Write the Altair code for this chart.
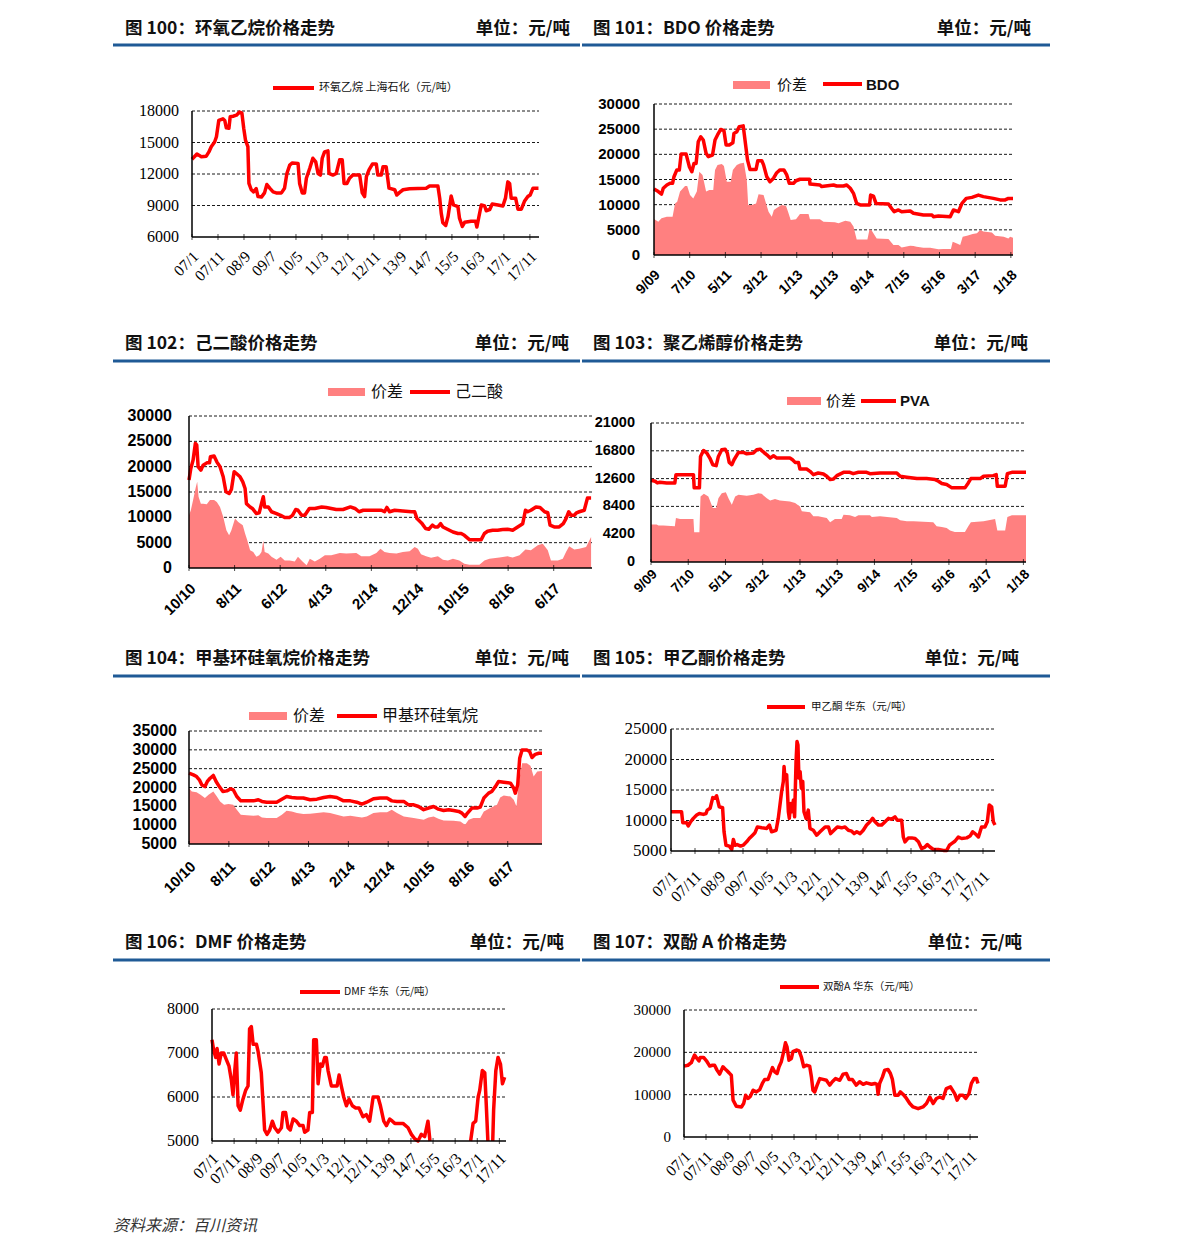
import altair as alt
import pandas as pd

# ---------------- data ----------------
# x = months after the first tick label of each chart, y = 元/吨
LAB_07 = ['07/1', '07/11', '08/9', '09/7', '10/5', '11/3', '12/1', '12/11',
          '13/9', '14/7', '15/5', '16/3', '17/1', '17/11']
LAB_09 = ['9/09', '7/10', '5/11', '3/12', '1/13', '11/13', '9/14', '7/15',
          '5/16', '3/17', '1/18']
LAB_10 = ['10/10', '8/11', '6/12', '4/13', '2/14', '12/14', '10/15', '8/16', '6/17']

EO_PRICE = [(0,13400),(1.9,13900),(3.6,13650),(5.5,13700),(6.5,14100),(7.4,14600),(8.7,15050),(9.4,15550),
    (10.3,17100),(11.9,17250),(12.6,17100),(13.2,16400),(14.2,16350),(14.7,17450),(15.8,17500),(17.1,17600),
    (18.3,17900),(19.2,17800),(19.9,16350),(20.6,15200),(21.5,14600),(21.9,11100),(22.8,10500),(23.7,10300),
    (24.7,10600),(25.4,9850),(26.7,9800),(27.9,10200),(28.8,11000),(29.9,10650),(31.2,10300),(32.4,10200),
    (34.4,10200),(35.6,10650),(36.5,12050),(37.6,12850),(38.6,13050),(40.8,13000),(41.4,11100),(42.4,10200),
    (43.3,10200),(44.0,11600),(45.3,12550),(46.5,13500),(47.6,13150),(48.5,12050),(49.4,11900),(50.1,13500),
    (51.0,14100),(52.3,14200),(52.7,12050),(54.2,11900),(55.5,12050),(56.8,13350),(57.8,13350),(58.5,11100),
    (59.6,11100),(60.6,11600),(61.9,11900),(64.5,11900),(65.5,10200),(66.4,9850),(67.1,11750),(68.1,12400),
    (69.4,12950),(70.9,12950),(71.5,11900),(72.8,11900),(73.5,12700),(74.7,12700),(75.8,10650),(78.0,10500),
    (78.8,10000),(79.9,10250),(81.2,10500),(83.7,10600),(90.1,10650),(91.4,10850),(94.6,10850),(95.3,9700),
    (95.9,8250),(96.5,7350),(97.6,7100),(98.5,7950),(99.7,9900),(100.6,9050),(102.3,8900),(102.9,7800),
    (104.0,7000),(104.9,7400),(107.4,7500),(109.1,7500),(109.6,6950),(110.4,7950),(111.3,9050),(112.6,8950),
    (113.2,8500),(114.5,8600),(115.5,9150),(117.7,9050),(119.6,8950),(120.6,9700),(121.5,11250),(122.2,11100),
    (122.8,9700),(124.5,9700),(125.4,8650),(126.7,8650),(127.9,9400),(129.2,9850),(130.1,10000),(131.2,10650),
    (133.3,10650)]

BDO_PRICE = [(0,13100),(1.2,12600),(2.1,12100),(2.6,13250),(3.6,13900),(4.5,14250),(5.2,14250),(5.6,15550),
    (6.4,16900),(7.1,16900),(7.6,20050),(9.0,20050),(9.9,17550),(10.6,16550),(11.2,18200),(11.8,18200),
    (12.4,22500),(13.1,23500),(13.8,22850),(14.6,20200),(15.2,19550),(16.4,19850),(17.1,22850),(17.8,23850),
    (18.7,24950),(19.6,24700),(20.2,21850),(21.1,21850),(22.1,22300),(22.4,24150),(23.2,24500),(23.9,25500),
    (25.0,25650),(25.5,22850),(26.2,18900),(26.9,17000),(28.6,17000),(29.1,18750),(30.2,18750),(30.7,17900),
    (31.6,15550),(32.5,14550),(33.5,15250),(34.4,16350),(35.3,16900),(36.4,16900),(37.2,15900),(37.9,14250),
    (39.1,14250),(39.8,14750),(40.9,15050),(43.6,15050),(43.7,14100),(46.5,13900),(47.0,13600),(50.3,13900),
    (51.2,13700),(53.1,13700),(54.0,13900),(55.0,13250),(55.9,12250),(56.8,10250),(57.8,9950),(60.4,9950),
    (60.7,11900),(61.5,11700),(62.2,10250),(65.7,10150),(66.6,9250),(67.3,8600),(68.5,8950),(69.4,8600),
    (71.8,8750),(72.7,8300),(75.5,7950),(77.9,7950),(78.3,7600),(79.7,7750),(83.0,7600),(83.9,8950),
    (85.3,8600),(86.3,10250),(87.5,11250),(89.1,11450),(90.9,11900),(92.3,11600),(95.1,11250),(97.0,10950),
    (98.4,10950),(99.3,11250),(100.6,11250)]
BDO_SPREAD = [(0,7150),(1.2,6600),(2.1,7300),(3.6,7600),(5.2,7600),(5.9,10250),(6.5,10600),(7.3,12600),
    (8.7,13700),(9.3,13700),(10.1,11900),(11.0,11250),(12.0,12600),(12.7,16550),(13.6,15900),(14.6,12600),
    (15.5,12900),(16.6,12900),(17.1,16900),(17.8,17900),(19.0,18100),(19.6,17700),(20.4,14550),(21.5,14550),
    (22.1,16900),(23.2,17900),(24.1,18200),(25.2,18350),(26.0,14900),(26.4,9950),(27.4,9950),(28.6,10250),
    (29.3,12050),(30.7,11900),(31.4,10250),(32.1,8600),(33.0,7600),(33.6,8950),(34.6,9450),(35.8,9950),
    (37.0,9750),(37.7,8300),(38.3,6950),(39.8,7100),(40.9,8150),(43.3,8150),(43.7,7100),(46.5,7100),
    (47.5,6600),(50.7,6500),(51.7,6300),(53.6,6800),(55.0,6600),(55.9,5650),(56.8,3100),(59.8,3100),
    (60.4,5100),(61.0,4850),(62.4,3300),(65.7,3200),(67.1,2000),(68.5,2000),(69.4,1500),(71.8,1850),
    (72.7,1800),(73.6,1650),(75.5,1450),(77.4,1450),(79.7,1150),(81.1,1200),(83.2,1200),(83.7,2650),
    (84.9,2300),(85.8,2000),(86.5,3650),(87.7,3800),(89.3,4150),(90.5,4300),(91.4,4950),(92.3,4650),
    (94.7,4450),(95.6,3800),(98.0,3650),(99.3,3300),(99.8,3650),(100.6,3450)]

ADA_PRICE = [(0,17350),(0.4,19650),(0.9,21300),(1.4,24600),(1.7,24250),(2.0,20000),(2.6,19300),(3.1,20300),
    (3.9,20750),(4.5,20750),(4.7,21950),(5.5,22100),(6.1,20950),(6.8,20000),(7.5,18000),(8.1,15050),
    (8.8,14700),(9.3,15500),(9.9,19000),(10.4,18650),(11.2,18000),(11.8,17000),(12.3,15700),(12.6,12700),
    (13.4,12050),(13.9,11750),(14.8,10750),(15.4,10900),(15.9,12700),(16.3,14050),(16.6,12050),(17.4,12050),
    (18.1,11100),(19.2,10750),(20.1,10400),(21.0,9950),(22.0,9950),(22.7,10400),(23.4,11550),(23.9,11400),
    (24.7,10400),(25.4,10400),(26.4,11750),(27.6,11750),(29.1,12050),(30.1,11950),(32.3,11550),(33.8,11550),
    (35.4,12050),(36.4,11750),(37.3,11100),(38.2,11400),(40.4,11400),(42.2,11400),(42.9,11100),(43.4,11950),
    (44.0,11100),(45.1,11400),(46.9,11250),(48.8,11100),(49.5,11100),(50.0,9750),(51.0,8900),(51.9,7800),
    (52.6,7650),(53.4,8450),(53.9,8100),(54.6,8100),(55.2,8750),(55.7,8100),(56.8,7600),(57.9,7100),
    (59.0,6800),(59.7,6800),(60.4,6450),(61.5,5600),(62.6,5600),(64.1,5600),(64.8,6800),(65.5,7250),
    (66.6,7450),(67.7,7450),(68.8,7600),(69.9,7650),(71.0,7450),(72.1,8100),(73.2,8750),(73.8,11400),
    (74.3,11100),(75.0,11400),(76.1,12050),(77.0,11950),(78.0,11100),(78.7,10900),(79.2,8450),(80.1,8100),
    (81.2,8100),(82.1,8750),(82.7,9750),(83.3,11100),(83.8,10400),(84.5,10400),(85.0,10900),(85.6,11100),
    (86.7,11400),(87.4,13800),(88.2,13800)]
ADA_SPREAD = [(0,10400),(0.4,11400),(0.9,13400),(1.5,16000),(1.8,17000),(2.1,14050),(2.6,12700),(3.1,12700),
    (3.9,12600),(4.6,13400),(5.5,13400),(6.1,13050),(6.8,12050),(7.5,10100),(8.2,7450),(8.8,6450),
    (9.3,7450),(10.1,9750),(10.8,9100),(11.8,8450),(12.3,6800),(12.8,5450),(13.4,3500),(14.1,3150),
    (14.8,2200),(15.4,2500),(15.9,3150),(16.3,5450),(16.6,3150),(17.4,2850),(18.1,2200),(19.2,1650),
    (20.1,2200),(21.0,1500),(22.1,1500),(23.2,1300),(23.9,2200),(24.9,1300),(25.8,550),(26.5,1850),
    (27.6,1300),(28.7,1850),(29.8,2500),(31.2,2500),(33.1,2950),(34.5,2850),(36.7,2950),(37.8,2300),
    (39.6,2300),(41.1,2950),(42.0,3800),(42.9,3150),(44.0,2950),(45.5,2850),(46.9,3150),(48.4,3300),
    (49.5,4150),(50.2,3800),(50.9,2700),(52.0,2300),(53.1,2000),(54.6,2300),(55.7,1650),(56.8,1500),
    (57.9,1850),(59.3,1500),(60.4,850),(61.5,650),(63.7,650),(64.8,1500),(65.9,1850),(68.1,2050),
    (69.9,2300),(71.0,2050),(72.5,2500),(73.8,3650),(75.0,3500),(76.5,4500),(77.6,4800),(78.7,3500),
    (79.4,1500),(80.9,1500),(82.0,1850),(82.7,3150),(83.4,4300),(84.5,3650),(85.6,3800),(87.1,4150),
    (88.2,6100)]

PVA_PRICE = [(0,12350),(1.1,12200),(1.7,11950),(2.4,12050),(4.2,11950),(6.4,11950),(6.7,13200),(7.8,13200),
    (11.4,13200),(11.6,11200),(13.0,11200),(13.3,15950),(14.1,16850),(15.0,16450),(15.8,15700),(16.6,14700),
    (17.5,14550),(18.1,15950),(19.0,16950),(19.9,17050),(20.5,16450),(21.0,15050),(21.7,14700),(22.3,15450),
    (23.5,16550),(24.8,16550),(25.7,16350),(27.5,16450),(28.4,16950),(29.3,17050),(30.0,16700),(31.1,16200),
    (32.0,15700),(32.9,16050),(33.8,15700),(35.5,15700),(37.3,15700),(38.0,15450),(38.7,15050),(39.6,15050),
    (40.0,14050),(41.8,14050),(42.7,13700),(43.6,13200),(44.9,13450),(46.3,13300),(47.2,12950),(48.1,12450),
    (49.0,12550),(49.9,13050),(51.7,13550),(53.4,13550),(54.3,13350),(55.7,13550),(57.9,13550),(58.8,13350),
    (61.5,13450),(66.0,13450),(66.9,12950),(68.7,12800),(71.4,12600),(74.0,12600),(76.3,12450),(77.2,12200),
    (78.1,11850),(79.4,11700),(80.8,11200),(84.3,11200),(85.2,11950),(85.9,12600),(88.4,12600),(89.3,12950),
    (91.9,13050),(92.7,13200),(93.0,11450),(95.1,11450),(95.7,13350),(96.9,13550),(100.7,13550)]
PVA_SPREAD = [(0,5650),(1.5,5650),(2.0,5500),(3.3,5500),(6.4,5400),(6.7,6650),(7.8,6500),(11.4,6500),
    (11.6,4500),(13.0,4500),(13.3,9900),(14.2,10300),(15.4,9900),(16.6,8150),(17.5,8150),(18.1,9650),
    (19.0,10400),(20.1,10550),(20.8,9650),(21.7,8650),(22.6,9900),(23.5,10150),(25.7,10000),(27.5,10150),
    (28.8,10400),(29.7,10300),(31.1,9650),(32.0,9300),(33.3,9500),(34.6,9300),(37.3,9150),(38.7,8900),
    (40.0,8400),(40.5,7650),(42.7,7500),(43.6,6900),(44.9,6900),(47.2,6650),(48.1,6000),(49.4,6500),
    (51.2,6500),(51.7,7150),(53.4,7050),(54.8,6800),(55.7,7050),(58.8,7050),(59.3,6800),(61.5,6900),
    (66.0,6650),(66.9,6300),(68.7,6150),(70.5,6150),(75.8,6000),(76.7,5400),(78.1,5300),(79.4,5150),
    (80.3,4750),(81.6,4550),(84.3,4550),(85.2,5400),(85.9,6000),(89.3,6150),(92.4,6500),(93.0,4750),
    (95.1,4750),(95.7,6800),(96.9,7050),(100.7,7050)]

DMC_PRICE = [(0,23800),(1.1,23350),(1.9,22900),(2.6,22050),(3.2,20700),(4.0,20250),(4.6,21600),(5.3,22450),
    (6.1,23200),(6.8,21600),(7.6,20250),(8.5,18950),(9.5,19100),(10.5,19650),(11.1,19400),(12.0,17600),
    (13.0,16450),(14.5,16450),(16.2,16450),(17.4,16750),(18.3,16300),(19.5,16100),(22.0,16100),(23.3,16900),
    (24.5,17600),(25.8,17350),(27.1,17200),(28.7,17200),(30.4,16750),(32.1,16900),(33.8,17350),(35.4,17600),
    (37.1,17350),(38.8,16450),(40.5,16450),(42.1,16100),(43.4,15600),(44.6,16100),(46.3,17000),(48.0,17200),
    (49.7,17200),(50.9,16450),(52.2,16300),(53.9,16300),(55.1,15400),(56.4,15400),(57.6,14950),(58.9,14100),
    (60.1,14550),(61.4,14950),(62.6,14250),(63.9,13900),(65.2,14100),(66.4,13900),(67.7,13650),(68.5,13200),
    (69.3,12300),(69.9,13200),(71.0,14550),(72.3,14550),(73.1,14800),(74.0,17200),(75.2,18500),(76.0,18950),
    (76.9,20250),(77.7,21600),(79.0,21400),(80.7,21150),(81.5,19800),(81.9,18500),(82.5,20700),(83.0,27750),
    (83.6,29950),(84.8,29950),(85.5,29550),(86.1,27950),(86.9,28800),(87.8,29100),(88.6,29100)]
DMC_SPREAD = [(0,19800),(0.7,18950),(1.9,18750),(2.9,18050),(4.0,17200),(4.9,18050),(6.1,18950),(7.0,17600),
    (7.8,16300),(8.8,15400),(9.9,15600),(11.1,15400),(12.0,14100),(13.0,12750),(14.5,12600),(16.2,12500),
    (17.4,12600),(18.3,12050),(19.5,11900),(22.0,11900),(23.3,12750),(24.5,13800),(25.8,13650),(27.1,13200),
    (28.7,12950),(30.4,13050),(32.1,13200),(33.8,13400),(35.4,13200),(37.1,12750),(38.8,12300),(40.5,12500),
    (42.1,12250),(43.4,12050),(44.6,12300),(46.3,13200),(48.0,13400),(49.7,13400),(50.9,14100),(52.2,13200),
    (53.9,12300),(56.4,11900),(58.9,11450),(60.1,12050),(61.4,12300),(62.6,11700),(63.9,11250),(66.4,11200),
    (68.1,11000),(69.3,10100),(70.2,11450),(71.4,11900),(73.1,11900),(74.0,13650),(75.6,14550),(77.3,15400),
    (78.1,17350),(79.0,17900),(80.7,17600),(81.5,16750),(82.2,14950),(82.7,20700),(83.6,26450),(84.8,26450),
    (85.7,25800),(86.5,22900),(87.4,24250),(88.6,24400)]

MEK_PRICE = [(0,11450),(4.4,11450),(4.9,9650),(6.5,9650),(7.2,9100),(8.2,9800),(9.3,10350),(10.7,10900),
    (11.8,11150),(13.5,11000),(14.6,11150),(15.1,11700),(16.3,12000),(17.4,13750),(18.3,13650),(19.0,14050),
    (20.1,12250),(21.5,12100),(22.1,8150),(22.9,5950),(24.3,5800),(25.3,5250),(26.0,6900),(26.7,5950),
    (27.6,6050),(29.0,5800),(30.1,5950),(31.5,6500),(32.6,7050),(34.0,7600),(35.0,8000),(36.0,8950),
    (37.8,8800),(39.9,8700),(41.0,9250),(41.9,8150),(43.8,8400),(44.7,10350),(45.4,12550),(46.1,14750),
    (46.8,16400),(47.1,18850),(47.5,16950),(48.2,17500),(48.9,11450),(49.3,10350),(49.9,12800),(50.4,11450),
    (51.0,13350),(51.5,10600),(52.1,19650),(52.5,22950),(52.9,22400),(53.3,16950),(53.8,18000),(54.3,15300),
    (54.9,16400),(55.4,11450),(56.3,10350),(57.2,11700),(57.9,8700),(59.3,8400),(60.7,7600),(62.1,8150),
    (64.2,8950),(65.6,8950),(66.5,7850),(67.9,8400),(69.3,8950),(71.1,8800),(72.5,8950),(73.9,8400),
    (75.3,8250),(76.3,7850),(77.4,8150),(78.8,7850),(80.1,8400),(81.5,9250),(82.9,9800),(84.0,10350),
    (85.0,9800),(86.4,9250),(87.8,9250),(89.2,9800),(90.6,10350),(91.9,10200),(93.3,10600),(94.3,10050),
    (96.1,10050),(96.8,7300),(97.5,6500),(98.9,7150),(100.3,7150),(101.7,7050),(103.1,6500),(104.4,5400),
    (105.8,5650),(106.8,6050),(107.9,5650),(109.3,5250),(111.4,5250),(113.5,5100),(114.9,5100),(116.0,5950),
    (116.9,6200),(118.3,6600),(119.7,7300),(121.1,7050),(123.2,7150),(124.6,7450),(125.7,8150),(126.7,7850),
    (128.1,7300),(129.4,8950),(130.8,8950),(131.8,9800),(132.6,12550),(133.6,12250),(134.3,9800),(135.0,9250)]

# (month, value, visible stretch) - the line leaves the 5000 floor twice
DMF_PRICE = [(0,7300,1),(0.8,7050,1),(1.7,6900,1),(2.3,7100,1),(3.2,6750,1),(4.2,7000,1),(5.3,7000,1),
    (6.5,6850,1),(7.7,6700,1),(8.7,6400,1),(9.5,6050,1),(10.3,6600,1),(11.0,7000,1),(11.8,5800,1),
    (12.8,5700,1),(14.0,5950,1),(15.2,6150,1),(16.3,6250,1),(17.0,7550,1),(17.8,7600,1),(18.6,7200,1),
    (20.1,7200,1),(20.8,7050,1),(22.3,6550,1),(23.1,5850,1),(23.8,5250,1),(24.9,5150,1),(26.1,5250,1),
    (27.3,5450,1),(28.4,5300,1),(29.9,5200,1),(31.4,5300,1),(32.1,5650,1),(33.3,5650,1),(34.4,5300,1),
    (35.4,5250,1),(36.7,5500,1),(38.2,5450,1),(39.7,5350,1),(41.2,5350,1),(41.9,5200,1),(43.4,5250,1),
    (44.2,5650,1),(45.4,5650,1),(46.0,7300,1),(47.2,7300,1),(48.0,6300,1),(49.0,6750,1),(49.9,6700,1),
    (51.0,6900,1),(51.7,6900,1),(52.5,6600,1),(54.0,6250,1),(55.5,6250,1),(56.6,6250,1),(57.5,6500,1),
    (58.5,6250,1),(59.6,6000,1),(60.8,5800,1),(62.0,5950,1),(63.5,5800,1),(65.0,5750,1),(66.5,5750,1),
    (68.3,5550,1),(69.8,5600,1),(71.3,5450,1),(72.9,6000,1),(75.1,6000,1),(76.2,5800,1),(77.7,5450,1),
    (78.9,5350,1),(80.4,5500,1),(81.6,5450,1),(82.7,5400,1),(84.2,5400,1),(86.4,5400,1),(88.7,5300,1),
    (90.2,5150,1),(91.7,5050,1),(93.2,5000,1),(94.7,5150,1),(96.2,5100,1),(97.7,5450,1),(98.6,5000,1),
    (117.0,5000,2),(118.1,5400,2),(119.3,5450,2),(120.4,6000,2),(121.1,6150,2),(122.3,6600,2),(123.4,6550,2),
    (124.1,5800,2),(124.8,5000,2),
    (127.0,5000,3),(127.4,5700,3),(128.4,6600,3),(129.4,6900,3),(130.5,6750,3),(131.4,6300,3),(132.4,6450,3)]

BPA_PRICE = [(0,16750),(1.8,16950),(3.3,17550),(4.1,18550),(4.8,19350),(5.9,18550),(6.8,18000),(7.4,18800),
    (8.9,18800),(10.2,18000),(11.7,16750),(12.9,16950),(13.9,16950),(15.0,15800),(16.2,14850),(17.7,16600),
    (19.2,15800),(20.5,15150),(21.5,14600),(22.3,8700),(23.8,7250),(26.1,7100),(27.1,7900),(28.0,9850),
    (29.1,9100),(30.2,9650),(31.4,11050),(32.9,10650),(34.4,11200),(35.6,12650),(36.7,13600),(38.2,13600),
    (39.2,15000),(40.2,16400),(41.2,15400),(42.3,15000),(43.2,16600),(44.2,17750),(45.3,20150),(46.1,22250),
    (46.8,21300),(47.7,18150),(48.8,18550),(49.5,20150),(51.1,20550),(52.3,20350),(53.3,18950),(54.4,16600),
    (55.6,16950),(57.1,16750),(57.9,14200),(58.6,11050),(59.4,10650),(60.5,12250),(61.7,13800),(63.2,13600),
    (64.7,13400),(66.2,12250),(67.4,13050),(68.9,13800),(70.8,13400),(72.3,14850),(73.8,15000),(75.0,13600),
    (76.5,13600),(78.3,12250),(79.8,13050),(81.4,12450),(82.9,12800),(85.2,12450),(86.7,12650),(87.7,12450),
    (88.2,10100),(88.9,12650),(90.2,14200),(91.2,15800),(92.7,15950),(93.8,15000),(94.7,13600),(95.8,9850),
    (97.3,9850),(98.3,10650),(99.5,10100),(101.1,9100),(102.6,7900),(104.1,7100),(106.4,6700),(108.6,7100),
    (110.2,7900),(111.7,9450),(113.2,7900),(114.7,9100),(116.2,9450),(117.7,9100),(119.2,11450),(121.1,11850),
    (123.0,10250),(124.1,8700),(125.3,9850),(126.8,9850),(128.0,9100),(129.5,10250),(130.6,12650),(131.8,13800),
    (132.9,13800),(133.6,12650)]

TITLES = ['图 100：环氧乙烷价格走势', '图 101：BDO 价格走势', '图 102：己二酸价格走势',
          '图 103：聚乙烯醇价格走势', '图 104：甲基环硅氧烷价格走势', '图 105：甲乙酮价格走势',
          '图 106：DMF 价格走势', '图 107：双酚 A 价格走势']
UNIT = '单位：元/吨'
SOURCE = '资料来源：百川资讯'
SPREAD_NAME = '价差'
SERIES_NAMES = ['环氧乙烷 上海石化（元/吨）', 'BDO', '己二酸', 'PVA', '甲基环硅氧烷',
                '甲乙酮 华东（元/吨）', 'DMF 华东（元/吨）', '双酚A 华东（元/吨）']

Y_TICKS = [[6000, 9000, 12000, 15000, 18000],
           [0, 5000, 10000, 15000, 20000, 25000, 30000],
           [0, 5000, 10000, 15000, 20000, 25000, 30000],
           [0, 4200, 8400, 12600, 16800, 21000],
           [5000, 10000, 15000, 20000, 25000, 30000, 35000],
           [5000, 10000, 15000, 20000, 25000],
           [5000, 6000, 7000, 8000],
           [0, 10000, 20000, 30000]]

# ---------------- styling / layout ----------------
SERIF = 'Liberation Serif'
SANS = 'Liberation Sans'
CJK = 'Noto Sans CJK SC'
RED = '#FF0000'
PINK = '#FF8080'
BLUE = '#1F5A96'
M = 8  # page margin


def P(v):
    return v - M


ONE = pd.DataFrame({'k': [0]})

PANELS = [
    dict(price=EO_PRICE, spread=None, labels=LAB_07, x0=192, x1=539, yt=111, yb=237, xmax=133.5,
         ylr=179, yfont=(SERIF, 16, 'normal'), xfont=(SERIF, 15.5, 'normal'), xgap=13,
         legend=[('line', 273, 314, 88), ('text', 319, 88, 11, CJK, 'normal')]),
    dict(price=BDO_PRICE, spread=BDO_SPREAD, labels=LAB_09, x0=654, x1=1013, yt=104, yb=255, xmax=100.6,
         ylr=640, yfont=(SANS, 15, 'bold'), xfont=(SANS, 14, 'bold'), xgap=14,
         legend=[('rect', 733, 770, 85), ('stext', 777, 85, 15, CJK, 'normal'),
                 ('line', 823, 862, 84), ('text', 866, 85, 15, SANS, 'bold')]),
    dict(price=ADA_PRICE, spread=ADA_SPREAD, labels=LAB_10, x0=189, x1=592, yt=416, yb=568, xmax=88.4,
         ylr=172, yfont=(SANS, 16, 'bold'), xfont=(SANS, 15, 'bold'), xgap=14,
         legend=[('rect', 328, 365, 392), ('stext', 371, 392, 16, CJK, 'normal'),
                 ('line', 410, 450, 392), ('text', 455, 392, 16, CJK, 'normal')]),
    dict(price=PVA_PRICE, spread=PVA_SPREAD, labels=LAB_09, x0=651, x1=1026, yt=423, yb=562, xmax=100.7,
         ylr=635, yfont=(SANS, 14.5, 'bold'), xfont=(SANS, 13.5, 'bold'), xgap=6,
         legend=[('rect', 787, 821, 401), ('stext', 826, 401, 15, CJK, 'normal'),
                 ('line', 861, 896, 401), ('text', 900, 401, 15, SANS, 'bold')]),
    dict(price=DMC_PRICE, spread=DMC_SPREAD, labels=LAB_10, x0=189, x1=542, yt=731, yb=844, xmax=88.6,
         ylr=177, yfont=(SANS, 16, 'bold'), xfont=(SANS, 15, 'bold'), xgap=16,
         legend=[('rect', 249, 287, 716), ('stext', 293, 716, 16, CJK, 'normal'),
                 ('line', 337, 377, 716), ('text', 382, 716, 16, CJK, 'normal')]),
    dict(price=MEK_PRICE, spread=None, labels=LAB_07, x0=671, x1=995, yt=729, yb=851, xmax=135,
         ylr=667, yfont=(SERIF, 17, 'normal'), xfont=(SERIF, 16, 'normal'), xgap=19,
         legend=[('line', 767, 805, 707), ('text', 811, 707, 10.5, CJK, 'normal')]),
    dict(price=DMF_PRICE, spread=None, labels=LAB_07, x0=212, x1=506, yt=1009, yb=1141, xmax=133,
         ylr=199, yfont=(SERIF, 16, 'normal'), xfont=(SERIF, 16, 'normal'), xgap=11,
         legend=[('line', 300, 340, 992), ('text', 344, 992, 10.5, CJK, 'normal')]),
    dict(price=BPA_PRICE, spread=None, labels=LAB_07, x0=684, x1=978, yt=1010, yb=1137, xmax=133.6,
         ylr=671, yfont=(SERIF, 15, 'normal'), xfont=(SERIF, 15.5, 'normal'), xgap=13,
         legend=[('line', 780, 819, 987), ('text', 823, 987, 10.5, CJK, 'normal')]),
]

ROW_Y = [29, 344, 659, 943]
LINE_Y = [45, 361, 676, 960]
UNIT_RIGHT = [570, 1031, 569, 1028, 569, 1019, 564, 1022]


def build_panel(i, c):
    yt = Y_TICKS[i]
    ymin, ymax = yt[0], yt[-1]
    xs = alt.Scale(domain=[0, c['xmax']], range=[P(c['x0']), P(c['x1'])], nice=False, zero=False)
    ys = alt.Scale(domain=[ymin, ymax], range=[P(c['yb']), P(c['yt'])], nice=False, zero=False)

    def X(f):
        return alt.X(f, type='quantitative', scale=xs, axis=None)

    def Y(f):
        return alt.Y(f, type='quantitative', scale=ys, axis=None)

    L = []
    grid = pd.DataFrame({'v': yt[1:]})
    grid['a'] = 0
    grid['b'] = c['xmax']
    L.append(alt.Chart(grid).mark_rule(color='#1a1a1a', strokeWidth=1, strokeDash=[3, 2])
             .encode(x=X('a'), x2=alt.X2('b'), y=Y('v')))
    if c['spread']:
        s = pd.DataFrame(c['spread'], columns=['m', 'v'])
        s['base'] = ymin
        L.append(alt.Chart(s).mark_area(color=PINK, opacity=1)
                 .encode(x=X('m'), y=Y('v'), y2=alt.Y2('base')))
    if len(c['price'][0]) == 3:
        p = pd.DataFrame(c['price'], columns=['m', 'v', 'seg'])
        L.append(alt.Chart(p).mark_line(color=RED, strokeWidth=3.5, strokeJoin='round')
                 .encode(x=X('m'), y=Y('v'), detail='seg:N'))
    else:
        p = pd.DataFrame(c['price'], columns=['m', 'v'])
        L.append(alt.Chart(p).mark_line(color=RED, strokeWidth=3.5, strokeJoin='round')
                 .encode(x=X('m'), y=Y('v')))
    ax = pd.DataFrame({'xa': [0, 0], 'xb': [0, c['xmax']], 'ya': [ymin, ymin], 'yb': [ymax, ymin]})
    L.append(alt.Chart(ax).mark_rule(color='#000', strokeWidth=1.5)
             .encode(x=X('xa'), x2=alt.X2('xb'), y=Y('ya'), y2=alt.Y2('yb')))
    tk = pd.DataFrame({'t': [10 * k for k in range(len(c['labels']))], 'lab': c['labels']})
    tk['lo'] = ymin
    L.append(alt.Chart(tk).mark_tick(orient='vertical', size=6, thickness=1, color='#000')
             .encode(x=X('t'), y=Y('lo')))
    f, fs, fw = c['xfont']
    L.append(alt.Chart(tk).mark_text(angle=315, align='right', baseline='middle', font=f, fontSize=fs,
                                     fontWeight=fw, color='#000', xOffset=4, yOffset=c['xgap'] + 4)
             .encode(x=X('t'), y=Y('lo'), text='lab:N'))
    yl = pd.DataFrame({'v': yt, 'lab': [str(v) for v in yt]})
    yl['a'] = 0
    f, fs, fw = c['yfont']
    L.append(alt.Chart(yl).mark_text(align='right', baseline='middle', font=f, fontSize=fs, fontWeight=fw,
                                     color='#000', xOffset=c['ylr'] - c['x0'])
             .encode(x=X('a'), y=Y('v'), text='lab:N'))
    # legend
    for item in c['legend']:
        kind = item[0]
        if kind == 'line':
            _, a, b, y = item
            L.append(alt.Chart(ONE).mark_rule(color=RED, strokeWidth=4)
                     .encode(x=alt.value(P(a)), x2=alt.value(P(b)), y=alt.value(P(y))))
        elif kind == 'rect':
            _, a, b, y = item
            L.append(alt.Chart(ONE).mark_rect(color=PINK)
                     .encode(x=alt.value(P(a)), x2=alt.value(P(b)), y=alt.value(P(y - 4)),
                             y2=alt.value(P(y + 4))))
        else:
            _, x, y, fs, f, fw = item
            txt = SPREAD_NAME if kind == 'stext' else SERIES_NAMES[i]
            L.append(alt.Chart(ONE).mark_text(text=txt, align='left', baseline='middle', font=f, fontSize=fs,
                                              fontWeight=fw, color='#111')
                     .encode(x=alt.value(P(x)), y=alt.value(P(y))))
    # header
    row, col = divmod(i, 2)
    hx = 125 if col == 0 else 593
    L.append(alt.Chart(ONE).mark_text(text=TITLES[i], align='left', baseline='middle', font=CJK,
                                      fontSize=17.5, fontWeight='bold', color='#111')
             .encode(x=alt.value(P(hx)), y=alt.value(P(ROW_Y[row]))))
    L.append(alt.Chart(ONE).mark_text(text=UNIT, align='right', baseline='middle', font=CJK,
                                      fontSize=17.5, fontWeight='bold', color='#111')
             .encode(x=alt.value(P(UNIT_RIGHT[i])), y=alt.value(P(ROW_Y[row]))))
    lx0, lx1 = (113, 580) if col == 0 else (582, 1050)
    L.append(alt.Chart(ONE).mark_rule(color=BLUE, strokeWidth=3)
             .encode(x=alt.value(P(lx0)), x2=alt.value(P(lx1)), y=alt.value(P(LINE_Y[row]))))
    return L


layers = []
for i, c in enumerate(PANELS):
    layers += build_panel(i, c)

layers.append(alt.Chart(ONE).mark_text(text=SOURCE, align='left', baseline='middle', font=CJK, fontSize=16,
                                       fontStyle='italic', color='#333')
              .encode(x=alt.value(P(113)), y=alt.value(P(1226))))

chart = (alt.layer(*layers)
         .resolve_scale(x='independent', y='independent')
         .properties(width=1175, height=1241, padding=0, autosize=alt.AutoSizeParams(type='none'))
         .configure_view(stroke=None))

chart.save('out.html', embed_options={'renderer': 'svg', 'actions': False})
